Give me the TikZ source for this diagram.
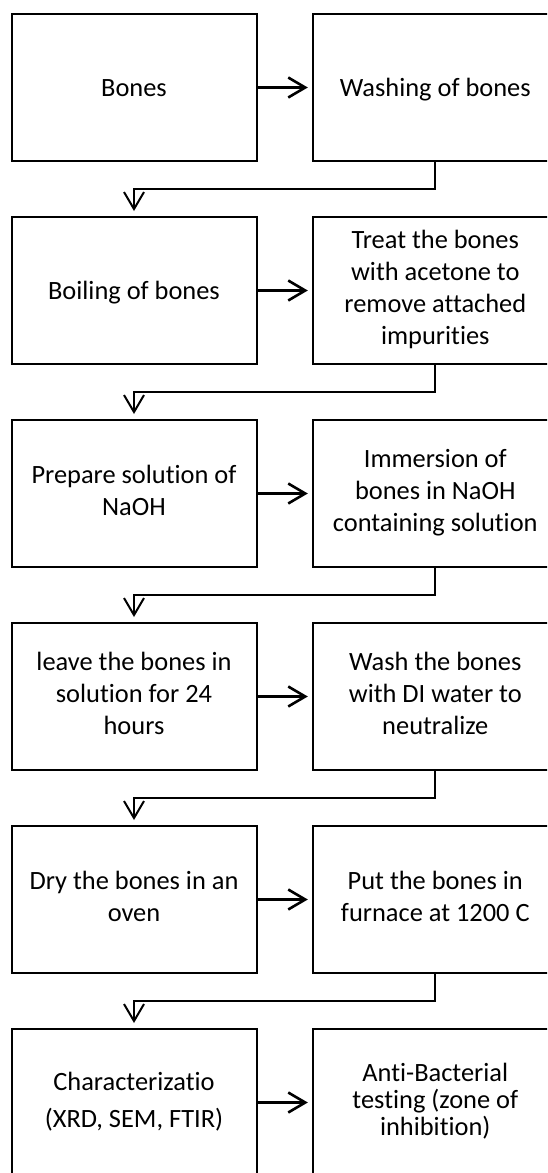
\documentclass[tikz,border=0pt]{standalone}
\usepackage{fontspec}
\setmainfont{Carlito}[RawFeature={-liga}]
\usetikzlibrary{positioning}
\usetikzlibrary{arrows.meta}

\newcommand{\boxstrut}{\rule[-5.6pt]{0pt}{29.6pt}}

\begin{document}
\begin{tikzpicture}[x=1pt, y=1pt,
		>={Straight Barb[length=17pt, width=20pt]},
		box/.style={draw, line width=2pt, outer sep=0pt, minimum width=245pt, minimum height=147pt, align=center, inner sep=4pt, font=\fontsize{26.4}{32}\selectfont, execute at begin node=\boxstrut, execute at end node=\boxstrut},
		sidearrow/.style={->, line width=2.6pt, shorten >=5pt},
		elbow/.style={->, line width=2pt, shorten >=6pt}]
		\useasboundingbox (0,0) rectangle (547,-1173);
		\clip (0,0) rectangle (547,-1173);
		% left column
		\node (bones) [box] at (134,-87.5) {Bones};
		\node (boiling) [box, below=56pt of bones] {Boiling of bones};
		\node (prepare) [box, below=56pt of boiling] {Prepare solution of\\NaOH};
		\node (leave) [box, below=56pt of prepare] {leave the bones in\\solution for 24\\hours};
		\node (dry) [box, below=56pt of leave] {Dry the bones in an\\oven};
		\node (charac) [box, below=56pt of dry, font=\fontsize{26.4}{37}\selectfont] {Characterizatio\\(XRD, SEM, FTIR)};
		% right column
		\node (washing) [box, right=56.3pt of bones] {Washing of bones};
		\node (acetone) [box, right=56.3pt of boiling] {Treat the bones\\with acetone to\\remove attached\\impurities};
		\node (immersion) [box, right=56.3pt of prepare] {Immersion of\\bones in NaOH\\containing solution};
		\node (washdi) [box, right=56.3pt of leave] {Wash the bones\\with DI water to\\neutralize};
		\node (furnace) [box, right=56.3pt of dry] {Put the bones in\\furnace at 1200 C};
		\node (antibac) [box, right=56.3pt of charac, font=\fontsize{26.4}{27}\selectfont] {Anti-Bacterial\\testing (zone of\\inhibition)};
		% arrows
		\draw[sidearrow] (bones) -- (washing);
		\draw[sidearrow] (boiling) -- (acetone);
		\draw[sidearrow] (prepare) -- (immersion);
		\draw[sidearrow] (leave) -- (washdi);
		\draw[sidearrow] (dry) -- (furnace);
		\draw[sidearrow] (charac) -- (antibac);
		\draw[elbow] (washing.south) -- ++(0,-28.3) -| (boiling.north);
		\draw[elbow] (acetone.south) -- ++(0,-28.3) -| (prepare.north);
		\draw[elbow] (immersion.south) -- ++(0,-28.3) -| (leave.north);
		\draw[elbow] (washdi.south) -- ++(0,-28.3) -| (dry.north);
		\draw[elbow] (furnace.south) -- ++(0,-28.3) -| (charac.north);
\end{tikzpicture}
\end{document}
